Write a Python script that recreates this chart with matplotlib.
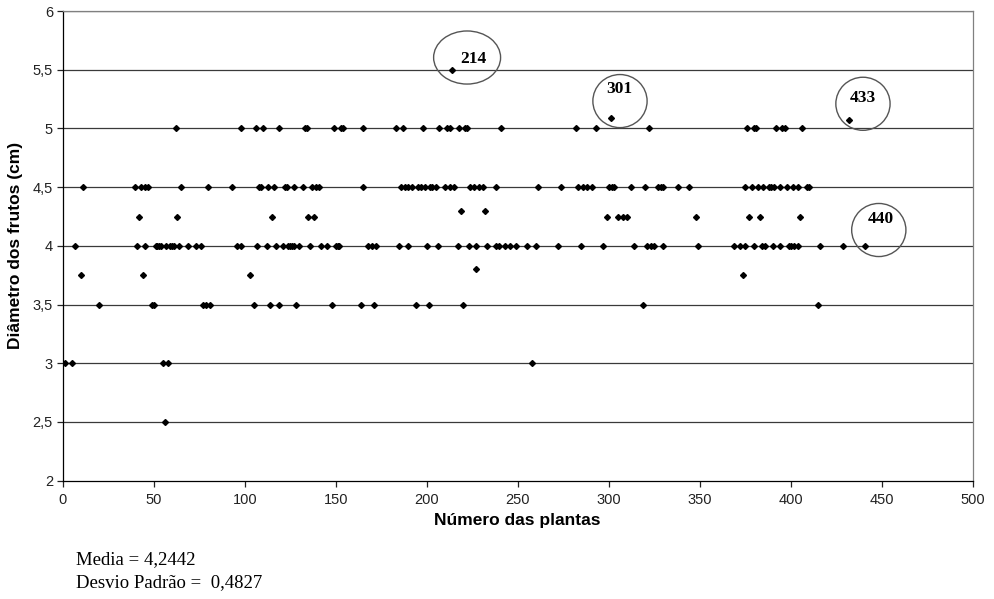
import matplotlib
matplotlib.use("Agg")
import matplotlib.pyplot as plt
from matplotlib.patches import Ellipse

# ---- data (plant number per diameter level) ----
x_550 = [214]
x_509 = [301]
x_507 = [432]
x_500 = [62, 98, 106, 110, 119, 133, 134, 149, 153, 154, 165, 183, 187, 198, 207,
         211, 213, 218, 221, 222, 241, 282, 293, 322, 376, 380, 381, 392, 395, 397, 406]
x_450 = [11, 40, 43, 45, 47, 65, 80, 93, 108, 109, 113, 116, 122, 123, 127, 132, 137,
         139, 141, 165, 186, 188, 190, 192, 195, 197, 199, 202, 203, 205, 210, 213, 215,
         224, 226, 229, 231, 238, 261, 274, 283, 286, 288, 291, 300, 302, 303, 312, 320,
         327, 329, 330, 338, 344, 375, 379, 382, 385, 388, 389, 391, 394, 398, 401, 404,
         409, 410]
x_430 = [219, 232]
x_425 = [42, 63, 115, 135, 138, 299, 305, 308, 310, 348, 377, 383, 405]
x_400 = [7, 41, 45, 51, 52, 53, 54, 57, 59, 60, 61, 64, 69, 73, 76, 96, 98, 107, 112,
         117, 121, 124, 125, 126, 127, 130, 136, 142, 145, 150, 151, 152, 168, 170, 172,
         185, 190, 200, 206, 217, 223, 227, 233, 238, 240, 243, 246, 249, 255, 260, 272,
         285, 297, 314, 321, 323, 325, 330, 349, 369, 372, 375, 380, 384, 386, 390, 394,
         399, 400, 402, 404, 416, 429, 441]
x_380 = [227]
x_375 = [10, 44, 103, 374]
x_350 = [20, 49, 50, 77, 79, 81, 105, 114, 119, 128, 148, 164, 171, 194, 201, 220,
         319, 415]
x_300 = [1, 5, 55, 58, 258]
x_250 = [56]

levels = [(5.5, x_550), (5.09, x_509), (5.07, x_507), (5.0, x_500), (4.5, x_450),
          (4.3, x_430), (4.25, x_425), (4.0, x_400), (3.8, x_380), (3.75, x_375),
          (3.5, x_350), (3.0, x_300), (2.5, x_250)]

highlight_labels = ["214", "301", "433", "440"]
highlight_centers = [(222.2, 5.604), (306.2, 5.233), (439.7, 5.21), (448.4, 4.135)]
highlight_text_pos = [(225.5, 5.59), (305.7, 5.336), (439.7, 5.263), (449.6, 4.233)]

y_ticks = [2, 2.5, 3, 3.5, 4, 4.5, 5, 5.5, 6]
y_tick_labels = ["2", "2,5", "3", "3,5", "4", "4,5", "5", "5,5", "6"]
x_ticks = list(range(0, 501, 50))

xs, ys = [], []
for yv, xl in levels:
    xs.extend(xl)
    ys.extend([yv] * len(xl))

fig = plt.figure(figsize=(9.95, 5.99), dpi=100)
ax = fig.add_axes([0.063, 0.1975, 0.9146, 0.7841])

for yv in y_ticks[1:]:
    ax.axhline(yv, color="#3a3a3a", lw=0.9, zorder=1)

ax.plot(xs, ys, linestyle="none", marker="D", ms=3.0, color="black", zorder=3)

for (cx, cy), lab, (tx, ty) in zip(highlight_centers, highlight_labels, highlight_text_pos):
    w = 36.8 if lab == "214" else 29.8
    e = Ellipse((cx, cy), width=w, height=0.452, fill=False, edgecolor="#555555",
                lw=1.0, zorder=4)
    ax.add_patch(e)
    ax.text(tx, ty, lab, ha="center", va="center", fontsize=12.5, fontweight="bold",
            family="Liberation Serif", zorder=5)

ax.set_xlim(0, 500)
ax.set_ylim(2, 6)
ax.set_xticks(x_ticks)
ax.set_xticklabels([str(t) for t in x_ticks], family="Liberation Sans", fontsize=10.5,
                   color="#222222")
ax.set_yticks(y_ticks)
ax.set_yticklabels(y_tick_labels, family="Liberation Sans", fontsize=10.5,
                   color="#222222")
ax.tick_params(axis="both", direction="out", length=4, width=0.9, pad=3,
               color="#222222")
ax.tick_params(axis="x", pad=5)

ax.spines["left"].set_color("black")
ax.spines["bottom"].set_color("black")
ax.spines["top"].set_color("#808080")
ax.spines["right"].set_color("#808080")
for s in ax.spines.values():
    s.set_linewidth(0.9)

ax.set_xlabel("Número das plantas", family="Liberation Sans", fontsize=12.5,
              fontweight="bold", labelpad=4)
ax.set_ylabel("Diâmetro dos frutos (cm)", family="Liberation Sans", fontsize=12.5,
              fontweight="bold", labelpad=7)

fig.text(76 / 995, 1 - 560 / 599, "Media = 4,2442", family="Liberation Serif",
         fontsize=13.5, va="center", ha="left")
fig.text(76 / 995, 1 - 583 / 599, "Desvio Padrão =  0,4827", family="Liberation Serif",
         fontsize=13.5, va="center", ha="left")

fig.savefig("out.png", dpi=100)
